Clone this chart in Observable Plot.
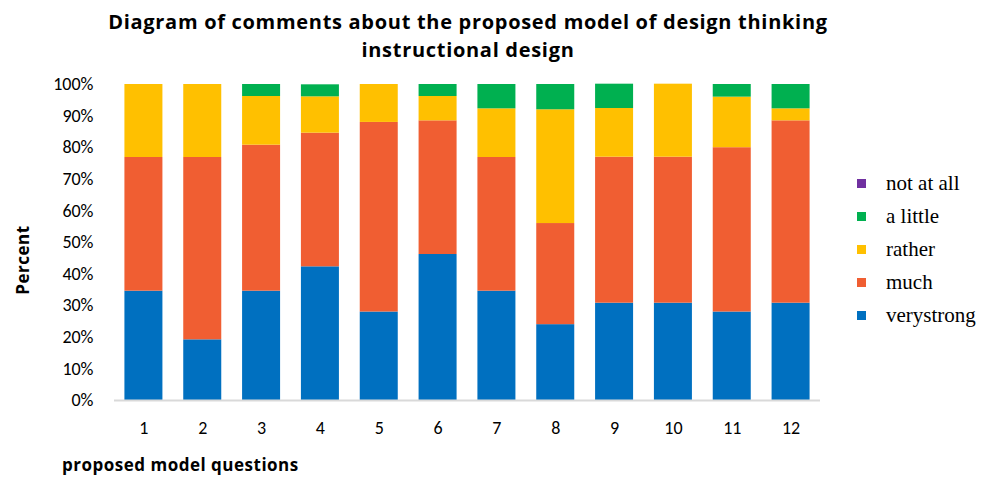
<!DOCTYPE html>
<html>
<head>
<meta charset="utf-8">
<script src="https://cdn.jsdelivr.net/npm/d3@7"></script>
<script src="https://cdn.jsdelivr.net/npm/@observablehq/plot@0.6"></script>
<style>
  html, body { margin: 0; padding: 0; background: #fff; }
  #wrap { position: relative; width: 986px; height: 477px; overflow: hidden; font-family: Carlito, Lato, "Open Sans", sans-serif; }
  #chart { position: absolute; left: 0; top: 0; }
  .title { position: absolute; left: 0; width: 936px; text-align: center; font-family: "Open Sans", sans-serif; font-weight: bold; font-size: 20px; letter-spacing: 0.7px; line-height: 26px; color: #000; white-space: nowrap; }
  .ylab { position: absolute; left: 22px; top: 260px; transform: translate(-50%, -50%) rotate(-90deg); font-family: "Open Sans", sans-serif; font-weight: bold; font-size: 17px; letter-spacing: 0.5px; white-space: nowrap; }
  .xlab { position: absolute; left: 62px; top: 453px; font-family: "Open Sans", sans-serif; font-weight: bold; font-size: 17px; letter-spacing: 0.5px; white-space: nowrap; }
  .legend { position: absolute; left: 857px; top: 0; color: #000; }
  .legend .item { position: absolute; left: 0; white-space: nowrap; display: flex; align-items: center; }
  .legend .sw { width: 9px; height: 9px; display: inline-block; margin-right: 20px; }
  .legend .tx { font-family: "Liberation Serif", "Times New Roman", Times, "DejaVu Serif", serif; font-size: 21px; }
</style>
</head>
<body>
<div id="wrap">
  <div id="chart"></div>
  <div class="title" style="top:9px;">Diagram of comments about the proposed model of design thinking</div>
  <div class="title" style="top:37px;">instructional design</div>
  <div class="ylab">Percent</div>
  <div class="xlab">proposed model questions</div>
  <div class="legend" id="legend"></div>
</div>
<script>
// Categories (questions)
const questions = ["1","2","3","4","5","6","7","8","9","10","11","12"];
// Series values in percent
const verystrong = [34.6, 19.2, 34.6, 42.3, 28.0, 46.2, 34.6, 24.0, 30.8, 30.8, 28.0, 30.8];
const much       = [42.3, 57.7, 46.2, 42.3, 60.0, 42.3, 42.3, 32.0, 46.2, 46.2, 52.0, 57.7];
const rather     = [23.1, 23.1, 15.4, 11.5, 12.0,  7.7, 15.4, 36.0, 15.4, 23.1, 16.0,  3.8];
const aLittle    = [ 0.0,  0.0,  3.8,  3.8,  0.0,  3.8,  7.7,  8.0,  7.7,  0.0,  4.0,  7.7];
const notAtAll   = [ 0,    0,    0,    0,    0,    0,    0,    0,    0,    0,    0,    0  ];
const levels = ["verystrong", "much", "rather", "a little", "not at all"];
const colors = ["#0070C0", "#F05E32", "#FFC000", "#00B050", "#7030A0"];
const yTicks = [0,10,20,30,40,50,60,70,80,90,100];

const seriesValues = [verystrong, much, rather, aLittle, notAtAll];
const data = [];
levels.forEach((lv, i) => {
  questions.forEach((q, j) => {
    data.push({question: q, level: lv, value: seriesValues[i][j]});
  });
});

const chart = Plot.plot({
  width: 986,
  height: 477,
  marginLeft: 114,
  marginRight: 166,
  marginTop: 84,
  marginBottom: 77,
  style: {fontFamily: "Carlito, Lato, 'Open Sans', sans-serif", background: "white"},
  x: {domain: questions, paddingInner: 0.354, paddingOuter: 0.177, round: false, label: null},
  y: {domain: [0, 100], label: null},
  color: {domain: levels, range: colors},
  marks: [
    Plot.barY(data, Plot.stackY({
      x: "question", y: "value", fill: "level", order: levels
    })),
    Plot.ruleY([0], {stroke: "#d9d9d9", strokeWidth: 2}),
    Plot.axisY({ticks: yTicks, tickSize: 0, tickPadding: 21, tickFormat: d => d + "%", fontSize: 18, label: null}),
    Plot.axisX({tickSize: 0, tickPadding: 21, fontSize: 18, label: null})
  ]
});
document.getElementById("chart").appendChild(chart);

// Legend (top to bottom: reverse of stack order)
const legendOrder = [4, 3, 2, 1, 0];
const legendY = [184, 217, 250, 283, 316];
const legend = document.getElementById("legend");
legendOrder.forEach((idx, k) => {
  const item = document.createElement("div");
  item.className = "item";
  item.style.top = (legendY[k] - 14) + "px";
  item.style.height = "26px";
  const sw = document.createElement("span");
  sw.className = "sw";
  sw.style.background = colors[idx];
  const tx = document.createElement("span");
  tx.className = "tx";
  tx.textContent = levels[idx];
  item.appendChild(sw);
  item.appendChild(tx);
  legend.appendChild(item);
});
</script>
</body>
</html>
